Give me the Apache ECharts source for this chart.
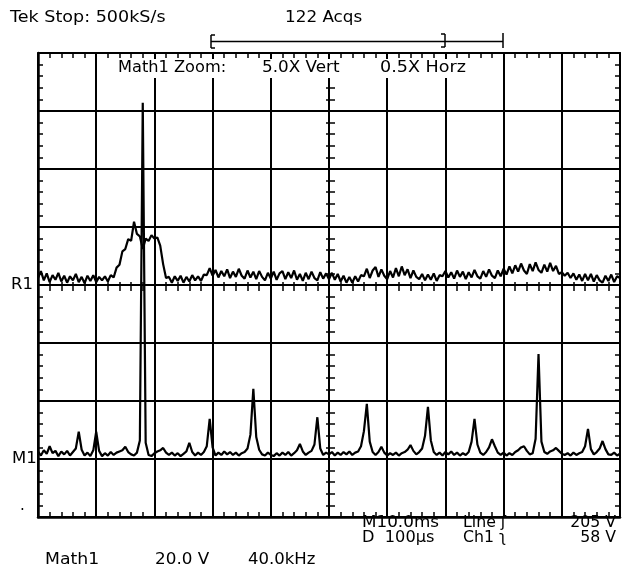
<!DOCTYPE html>
<html>
<head>
<meta charset="utf-8">
<script src="https://cdn.jsdelivr.net/npm/echarts@6/dist/echarts.min.js"></script>
<style>
  html, body { margin: 0; padding: 0; background: #fff; }
  #scope { width: 623px; height: 572px; }
</style>
</head>
<body>
<div id="scope"></div>
<script>
// Sample spacing of both traces (kHz); the screen spans 10 divisions of 40 kHz.
const FREQ_STEP_KHZ = 2;
const FREQ_SPAN_KHZ = [0, 400];
const FREQ_PER_DIV = 40;
const VERT_DIVS = [-4, 4];

// Reference trace R1, level above its marker in divisions, one value per 2 kHz.
const r1Levels = [
  0.12,0.24,0.08,0.20,0.05,0.17,0.09,0.21,0.06,0.16,
  0.04,0.15,0.08,0.19,0.05,0.14,0.03,0.16,0.07,0.17,
  0.05,0.14,0.08,0.15,0.06,0.17,0.13,0.30,0.35,0.58,
  0.62,0.79,0.76,1.09,0.88,0.84,0.62,0.80,0.76,0.86,
  0.80,0.82,0.68,0.36,0.12,0.14,0.04,0.15,0.07,0.16,
  0.04,0.14,0.06,0.17,0.08,0.15,0.07,0.18,0.17,0.29,
  0.16,0.26,0.13,0.24,0.15,0.27,0.12,0.23,0.14,0.28,
  0.16,0.11,0.25,0.13,0.23,0.10,0.24,0.14,0.08,0.21,
  0.11,0.23,0.09,0.20,0.24,0.10,0.22,0.12,0.25,0.09,
  0.19,0.07,0.21,0.10,0.23,0.12,0.08,0.22,0.11,0.20,
  0.10,0.21,0.09,0.19,0.06,0.16,0.04,0.14,0.04,0.15,
  0.06,0.17,0.15,0.28,0.12,0.25,0.31,0.14,0.27,0.16,
  0.10,0.24,0.13,0.29,0.15,0.32,0.17,0.27,0.12,0.25,
  0.14,0.10,0.19,0.08,0.18,0.09,0.20,0.07,0.17,0.15,
  0.24,0.13,0.22,0.11,0.25,0.14,0.23,0.10,0.22,0.13,
  0.26,0.15,0.11,0.24,0.14,0.27,0.16,0.12,0.25,0.15,
  0.28,0.18,0.32,0.20,0.34,0.23,0.37,0.25,0.19,0.36,
  0.24,0.39,0.26,0.21,0.35,0.23,0.38,0.24,0.33,0.19,
  0.22,0.16,0.21,0.12,0.20,0.09,0.18,0.07,0.19,0.08,
  0.19,0.06,0.17,0.08,0.04,0.16,0.07,0.18,0.05,0.15,
  0.12
];

// Math trace M1 (spectrum), level above its marker in divisions, one value per 2 kHz.
const m1Levels = [
  0.13,0.06,0.15,0.09,0.22,0.10,0.14,0.05,0.13,0.08,
  0.14,0.06,0.12,0.18,0.47,0.16,0.06,0.11,0.05,0.15,
  0.47,0.14,0.05,0.10,0.06,0.12,0.07,0.11,0.13,0.15,
  0.21,0.12,0.08,0.06,0.11,0.32,6.14,0.28,0.07,0.05,
  0.10,0.13,0.15,0.19,0.11,0.07,0.11,0.06,0.10,0.05,
  0.09,0.13,0.28,0.12,0.06,0.11,0.07,0.12,0.22,0.69,
  0.20,0.06,0.11,0.07,0.13,0.08,0.12,0.07,0.11,0.06,
  0.10,0.12,0.18,0.42,1.21,0.38,0.16,0.08,0.06,0.11,
  0.07,0.05,0.10,0.06,0.11,0.07,0.12,0.06,0.10,0.15,
  0.26,0.13,0.07,0.11,0.14,0.25,0.72,0.18,0.07,0.11,
  0.08,0.12,0.06,0.11,0.07,0.12,0.08,0.13,0.07,0.11,
  0.13,0.22,0.48,0.95,0.30,0.12,0.07,0.12,0.21,0.11,
  0.06,0.10,0.07,0.11,0.06,0.10,0.12,0.16,0.24,0.14,
  0.08,0.12,0.18,0.40,0.90,0.32,0.12,0.07,0.11,0.06,
  0.12,0.08,0.13,0.07,0.11,0.06,0.10,0.07,0.12,0.30,
  0.69,0.25,0.11,0.07,0.12,0.20,0.34,0.22,0.11,0.07,
  0.11,0.06,0.10,0.07,0.12,0.15,0.20,0.22,0.14,0.08,
  0.10,0.35,1.81,0.30,0.12,0.09,0.13,0.15,0.19,0.14,
  0.09,0.07,0.10,0.06,0.11,0.07,0.10,0.12,0.22,0.52,
  0.17,0.08,0.12,0.18,0.31,0.17,0.08,0.07,0.11,0.06,
  0.09
];

// Marker positions of the two traces on the screen (divisions from centre).
const R1_REF = 0;
const M1_REF = -3;

// Readout text
const headerLeft = 'Tek Stop: 500kS/s';
const headerAcqs = '122 Acqs';
const zoomReadout = ['Math1 Zoom:', '5.0X Vert', '0.5X Horz'];
const timebaseRows = [
  ['M10.0ms', 'Line \u0283', '205 V'],
  ['D  100\u00b5s', 'Ch1 \u0285', '58 V']
];
const mathReadout = ['Math1', '20.0 V', '40.0kHz'];

const toPoints = (levels, ref) => levels.map((v, i) => [i * FREQ_STEP_KHZ, v + ref]);

const INK = '#000';
const FONT = '"DejaVu Sans", sans-serif';

function label(x, y, s, size, stretch, align) {
  return {
    type: 'text', x: x, y: y, scaleX: stretch, z: 100,
    style: { text: s, font: size + 'px ' + FONT, fill: INK,
             align: align || 'left', verticalAlign: 'middle' }
  };
}
function seg(x1, y1, x2, y2, w) {
  return { type: 'line', z: 100, shape: { x1: x1, y1: y1, x2: x2, y2: y2 },
           style: { stroke: INK, lineWidth: w || 1.5 } };
}

const GRID = { left: 38, top: 53, width: 582, height: 464 };

function xAx(position, offset, inside, len, split) {
  return {
    type: 'value', min: FREQ_SPAN_KHZ[0], max: FREQ_SPAN_KHZ[1], interval: FREQ_PER_DIV,
    position: position, offset: offset,
    axisLine: { show: true, onZero: false, lineStyle: { color: INK, width: split ? 2.5 : 2 } },
    axisTick: { show: true, inside: inside, length: len, lineStyle: { color: INK, width: 1.5 } },
    minorTick: { show: true, splitNumber: 5, length: len, lineStyle: { color: INK, width: 1.5 } },
    axisLabel: { show: false },
    splitLine: { show: !!split, lineStyle: { color: INK, width: 2 } }
  };
}
function yAx(position, offset, inside, len, split) {
  return {
    type: 'value', min: VERT_DIVS[0], max: VERT_DIVS[1], interval: 1,
    position: position, offset: offset,
    axisLine: { show: true, onZero: false, lineStyle: { color: INK, width: split ? 2.5 : 2 } },
    axisTick: { show: true, inside: inside, length: len, lineStyle: { color: INK, width: 1.5 } },
    minorTick: { show: true, splitNumber: 5, length: len, lineStyle: { color: INK, width: 1.5 } },
    axisLabel: { show: false },
    splitLine: { show: !!split, lineStyle: { color: INK, width: 2 } }
  };
}

const chart = echarts.init(document.getElementById('scope'), null, { renderer: 'canvas' });

chart.setOption({
  animation: false,
  backgroundColor: '#fff',
  grid: Object.assign({ outerBoundsMode: 'none', containLabel: false }, GRID),
  xAxis: [
    xAx('bottom', 0, true, 5, true),
    xAx('top', 0, true, 5, false),
    xAx('bottom', -232, false, 6, false),   // centre horizontal line, ticks below
    xAx('bottom', -232, true, 3, false)     // centre horizontal line, ticks above
  ],
  yAxis: [
    yAx('left', 0, true, 5, true),
    yAx('right', 0, true, 5, false),
    yAx('left', -291, true, 6, false),      // centre vertical line, ticks right
    yAx('left', -291, false, 3, false)      // centre vertical line, ticks left
  ],
  series: [
    {
      name: 'R1', type: 'line', xAxisIndex: 0, yAxisIndex: 0,
      data: toPoints(r1Levels, R1_REF), showSymbol: false, z: 10,
      lineStyle: { color: INK, width: 2.2 }
    },
    {
      name: 'M1', type: 'line', xAxisIndex: 0, yAxisIndex: 0,
      data: toPoints(m1Levels, M1_REF), showSymbol: false, z: 10,
      lineStyle: { color: INK, width: 2.2 }
    }
  ],
  graphic: [
    label(10, 18, headerLeft, 15, 1.17),
    label(285, 18, headerAcqs, 15, 1.12),
    // record-window bracket
    seg(211, 35, 211, 48), seg(211, 35, 215, 35), seg(211, 48, 215, 48),
    seg(211, 41.5, 503, 41.5),
    seg(445, 34, 445, 47), seg(441, 34, 445, 34), seg(441, 47, 445, 47),
    seg(503, 33, 503, 48),
    // zoom readout on a white plate
    { type: 'rect', z: 90, shape: { x: 112, y: 59, width: 368, height: 19 }, style: { fill: '#fff' } },
    label(118, 68.5, zoomReadout[0], 15, 1.08),
    label(262, 68.5, zoomReadout[1], 15, 1.12),
    label(380, 68.5, zoomReadout[2], 15, 1.17),
    // trace markers
    label(11, 285, 'R1', 15, 1.1),
    label(12, 459, 'M1', 15, 1.1),
    label(20, 506, '.', 15, 1),
    // timebase / trigger readout
    label(362, 523, timebaseRows[0][0], 15, 1.12),
    label(463, 523, timebaseRows[0][1], 15, 1.05),
    label(616, 523, timebaseRows[0][2], 15, 1.05, 'right'),
    label(362, 538.5, timebaseRows[1][0], 15, 1.08),
    label(463, 538.5, timebaseRows[1][1], 15, 1.05),
    label(616, 538.5, timebaseRows[1][2], 15, 1.05, 'right'),
    // math channel readout
    label(45, 560.5, mathReadout[0], 15, 1.15),
    label(155, 560.5, mathReadout[1], 15, 1.12),
    label(248, 560.5, mathReadout[2], 15, 1.1)
  ]
});
</script>
</body>
</html>
